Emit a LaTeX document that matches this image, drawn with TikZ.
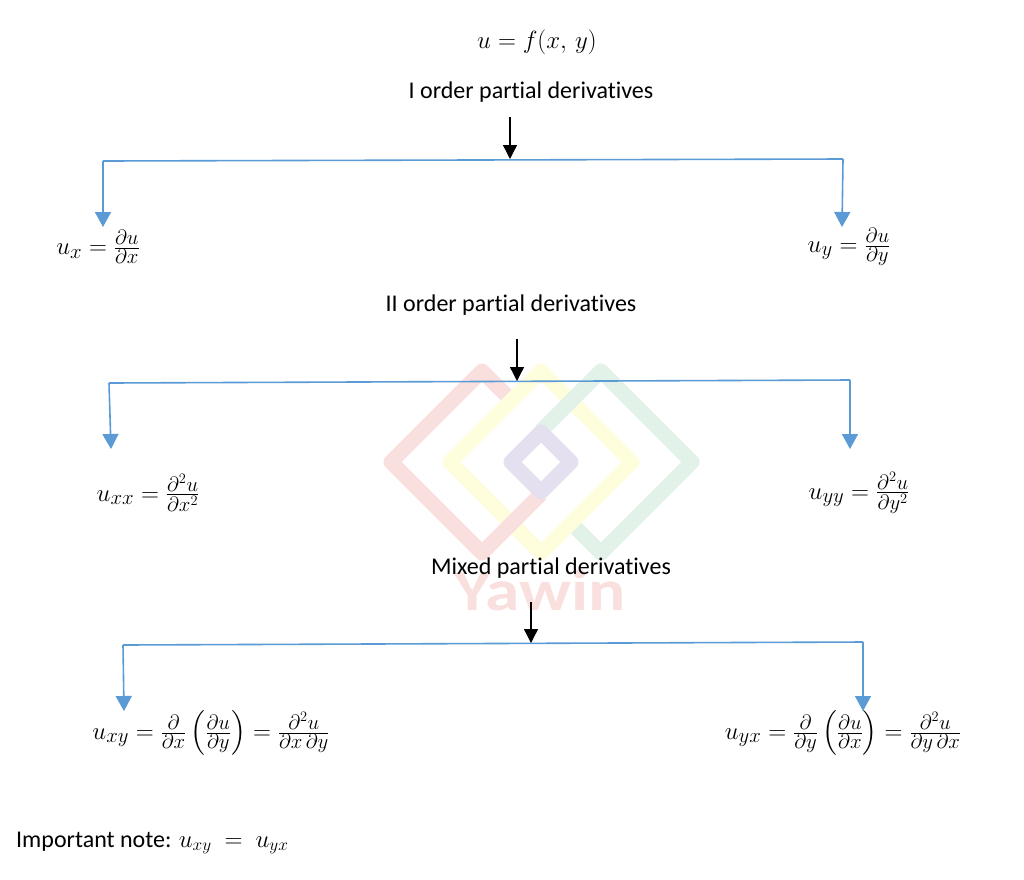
\documentclass[tikz,border=0pt]{standalone}
\usepackage[no-math]{fontspec}
\usepackage{amsmath}
\usepackage{tikz}
\usetikzlibrary{arrows.meta}
\setmainfont{Carlito}[Ligatures=NoCommon]
\definecolor{bracketblue}{HTML}{5B9BD5}
\definecolor{markred}{HTML}{F9E0DF}
\definecolor{markyellow}{HTML}{FEFDDC}
\definecolor{markgreen}{HTML}{E2F2E8}
\definecolor{markpurple}{HTML}{E4E0F0}

\begin{document}
\begin{tikzpicture}[x=1pt,y=-1pt]
\tikzstyle{every node}=[inner sep=0pt,font=\fontsize{24}{28}\selectfont];
\tikzstyle{formula}=[font=\fontsize{29}{33}\selectfont];
\tikzstyle{logoline}=[line width=15pt,line join=round];
\tikzstyle{bracket}=[bracketblue,line width=1.6pt];
\tikzstyle{drop}=[bracket,-{Triangle[length=15pt,width=16pt]}];
\tikzstyle{down}=[black,line width=1.3pt,-{Triangle[length=14pt,width=14pt]}];
\useasboundingbox (0,0) rectangle (1024,879);
\fill[white] (0,0) rectangle (1024,879);
% watermark
\draw[logoline,markyellow] (541,371) -- (450,462) -- (541,553) -- (632,462) -- cycle;
\draw[logoline,markred] (506,395) -- (482,371) -- (391,462) -- (482,553) -- (541,494);
\draw[logoline,markgreen] (541,431) -- (601,371) -- (692,462) -- (601,553) -- (576.3,528.3);
\draw[logoline,markpurple] (541,432) -- (511,462) -- (541,492) -- (571,462) -- cycle;
\path (540,590) node[font=\fontsize{58}{60}\bfseries\selectfont,text=markred,xscale=1.2] (brand) {Yawin};
% headings
\path (537,42) node[formula] (func) {$u = f(x,\, y)$};
\path (531,92) node (first) {I order partial derivatives};
\path (511,305) node (second) {II order partial derivatives};
\path (551,568) node (mixed) {Mixed partial derivatives};
% first order
\coordinate (a0) at (510,117);
\coordinate (a1) at (510,159);
\coordinate (al) at (103,161);
\coordinate (ar) at (843,159);
\coordinate (alt) at (103,227);
\coordinate (art) at (842,227);
\path (98,247) node[formula] (ux) {$u_x = \frac{\partial u}{\partial x}$};
\path (849,247) node[formula] (uy) {$u_y = \frac{\partial u}{\partial y}$};
\draw[bracket] (al) -- (ar);
\draw[down] (a0) -- (a1);
\draw[drop] (al) -- (alt);
\draw[drop] (ar) -- (art);
% second order
\coordinate (b0) at (517,339);
\coordinate (b1) at (517,381);
\coordinate (bl) at (109,383);
\coordinate (br) at (850,380);
\coordinate (blt) at (111,449);
\coordinate (brt) at (850,449);
\path (148,493) node[formula] (uxx) {$u_{xx} = \frac{\partial^2 u}{\partial x^2}$};
\path (859,493) node[formula] (uyy) {$u_{yy} = \frac{\partial^2 u}{\partial y^2}$};
\draw[bracket] (bl) -- (br);
\draw[down] (b0) -- (b1);
\draw[drop] (bl) -- (blt);
\draw[drop] (br) -- (brt);
% mixed
\coordinate (c0) at (531,602);
\coordinate (c1) at (531,643);
\coordinate (cl) at (123,645);
\coordinate (cr) at (863,642);
\coordinate (clt) at (124,711);
\coordinate (crt) at (863,711);
\path (211,733) node[formula] (uxy) {$u_{xy} = \frac{\partial}{\partial x}\left(\frac{\partial u}{\partial y}\right) = \frac{\partial^2 u}{\partial x\,\partial y}$};
\path (843,733) node[formula] (uyx) {$u_{yx} = \frac{\partial}{\partial y}\left(\frac{\partial u}{\partial x}\right) = \frac{\partial^2 u}{\partial y\,\partial x}$};
\draw[bracket] (cl) -- (cr);
\draw[down] (c0) -- (c1);
\draw[drop] (cl) -- (clt);
\draw[drop] (cr) -- (crt);
% note
\path (16,843) node[anchor=west] (note) {Important note: {\fontsize{27}{30}\selectfont$u_{xy} \ = \ u_{yx}$}};
\end{tikzpicture}
\end{document}
